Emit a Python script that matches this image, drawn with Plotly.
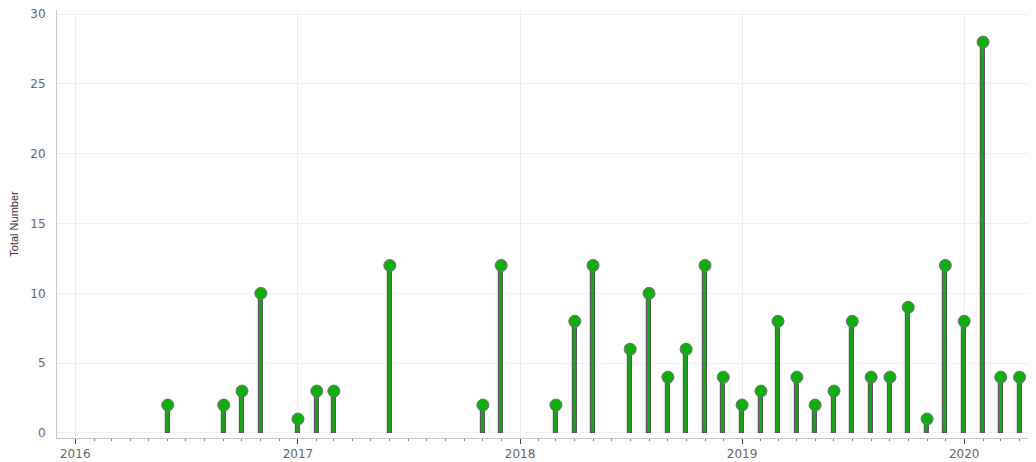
import plotly.graph_objects as go

months = ["2016-06-01", "2016-09-01", "2016-10-01", "2016-11-01",
          "2017-01-01", "2017-02-01", "2017-03-01", "2017-06-01", "2017-11-01", "2017-12-01",
          "2018-03-01", "2018-04-01", "2018-05-01", "2018-07-01", "2018-08-01", "2018-09-01",
          "2018-10-01", "2018-11-01", "2018-12-01",
          "2019-01-01", "2019-02-01", "2019-03-01", "2019-04-01", "2019-05-01", "2019-06-01",
          "2019-07-01", "2019-08-01", "2019-09-01", "2019-10-01", "2019-11-01", "2019-12-01",
          "2020-01-01", "2020-02-01", "2020-03-01", "2020-04-01"]
totals = [2, 2, 3, 10,
          1, 3, 3, 12, 2, 12,
          2, 8, 12, 6, 10, 4,
          6, 12, 4,
          2, 3, 8, 4, 2, 3,
          8, 4, 4, 9, 1, 12,
          8, 28, 4, 4]

green = "#16a716"
gray = "#5a5a5a"

fig = go.Figure()
fig.add_trace(go.Bar(
    x=months, y=totals, width=5.5e8,
    marker=dict(color=green, line=dict(color=gray, width=1.2)),
    hoverinfo="skip", showlegend=False,
))
fig.add_trace(go.Scatter(
    x=months, y=totals, mode="markers",
    marker=dict(symbol="circle", size=12, color="#0fae0f",
                line=dict(color="#707070", width=1)),
    showlegend=False,
))

fig.update_layout(
    width=1036, height=462,
    margin=dict(l=49, r=8, t=2, b=32, autoexpand=False),
    paper_bgcolor="white", plot_bgcolor="white",
    bargap=0,
    xaxis=dict(
        type="date",
        range=["2015-12-02", "2020-04-28"],
        dtick="M12", tick0="2016-01-01", tickformat="%Y",
        ticks="outside", ticklen=5, tickcolor="#444", tickwidth=1,
        showgrid=True, gridcolor="#ececec", gridwidth=1,
        showline=True, linecolor="#c8c8c8", linewidth=1,
        tickfont=dict(family="DejaVu Sans", size=12, color="#666"),
        minor=dict(dtick="M1", tick0="2016-01-01", ticks="outside", ticklen=2,
                   tickcolor="#777", showgrid=False),
        zeroline=False,
    ),
    yaxis=dict(
        range=[-0.36, 30.3],
        dtick=5, tick0=0,
        showgrid=True, gridcolor="#f0f0f0", gridwidth=1,
        showline=True, linecolor="#c8c8c8", linewidth=1,
        zeroline=False,
        ticks="", ticklabelstandoff=8, ticklabeloverflow="allow",
        tickfont=dict(family="DejaVu Sans", size=12, color="#666"),
        title=dict(text="Total Number", standoff=10,
                   font=dict(family="Liberation Sans Narrow, Liberation Sans", size=11, color="#333")),
    ),
)

fig.write_html("out.html")
